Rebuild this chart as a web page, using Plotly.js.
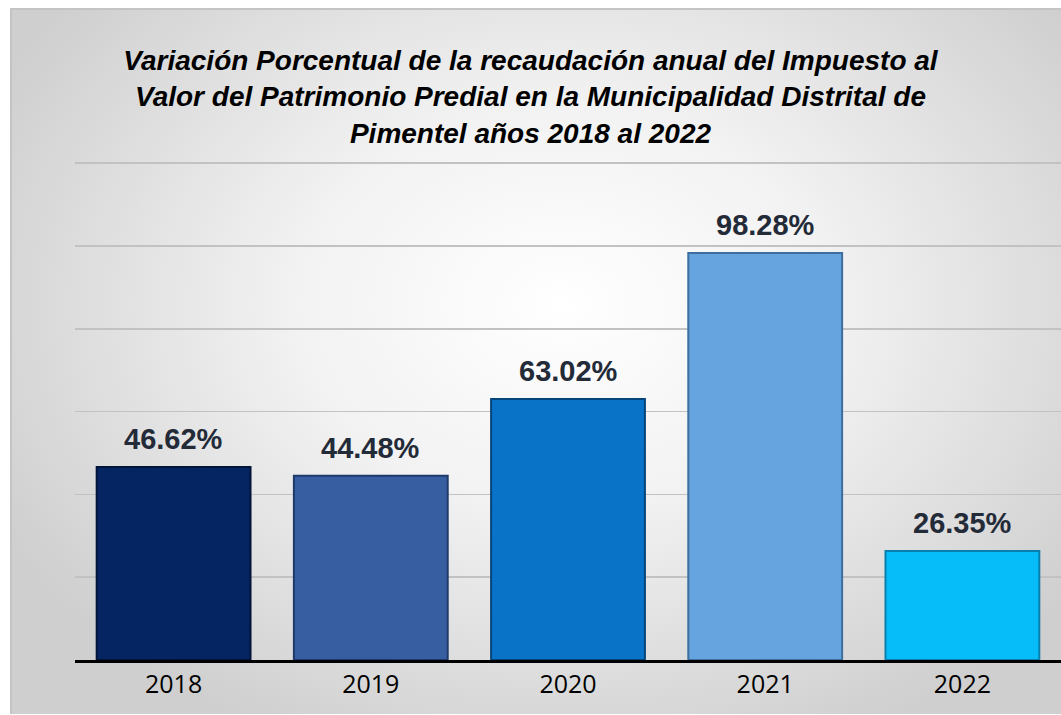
<!DOCTYPE html>
<html>
<head>
<meta charset="utf-8">
<script src="https://cdn.plot.ly/plotly-3.0.1.min.js"></script>
<style>
  html, body { margin: 0; padding: 0; background: #ffffff; }
  #bg {
    position: absolute; left: 10px; top: 8px; width: 1060px; height: 706px;
    box-sizing: border-box;
    border-left: 2px solid #c4c4c4; border-top: 2px solid #c4c4c4;
    background: radial-gradient(ellipse 60% 68% at 52% 42%, #ffffff 0%, #f2f2f2 42%, #cfcfcf 100%);
  }
  #chart { position: absolute; left: 0; top: 0; width: 1061px; height: 715px; }
</style>
</head>
<body>
<div id="bg"></div>
<div id="chart"></div>
<script>
const years = ["2018", "2019", "2020", "2021", "2022"];
const values = [46.62, 44.48, 63.02, 98.28, 26.35];
const barColors = ["#052562", "#365ea1", "#0873c7", "#65a4de", "#06bcf9"];
const edgeColors = ["#021438", "#1f3a6a", "#05457a", "#3c6f9e", "#0a7fae"];
const titleText = "Variación Porcentual de la recaudación anual del Impuesto al<br>Valor del Patrimonio Predial en la Municipalidad Distrital de<br>Pimentel años 2018 al 2022";

const trace = {
  type: "bar",
  x: years,
  y: values,
  marker: { color: barColors, line: { color: edgeColors, width: 2 } },
  hoverinfo: "x+y"
};

const annotations = years.map((yr, i) => ({
  x: i, y: values[i], xref: "x", yref: "y",
  text: values[i].toFixed(2) + "%",
  showarrow: false, yanchor: "bottom", yshift: 10,
  font: { family: "Liberation Sans, Arial, sans-serif", size: 29, color: "#232a38", weight: "bold" }
}));

const layout = {
  width: 1061, height: 715,
  margin: { l: 75, r: 0, t: 159, b: 55 },
  paper_bgcolor: "rgba(0,0,0,0)",
  plot_bgcolor: "rgba(0,0,0,0)",
  showlegend: false,
  bargap: 0.22,
  title: {
    text: titleText,
    xref: "container", x: 0.5, xanchor: "center",
    yref: "container", y: 1 - 70 / 715, yanchor: "middle",
    font: { family: "Liberation Sans, Arial, sans-serif", size: 28, color: "#000000", weight: "bold", style: "italic" }
  },
  xaxis: {
    type: "category",
    range: [-0.5, years.length - 0.5],
    showline: true, linecolor: "#000000", linewidth: 3,
    ticks: "", showgrid: false,
    tickfont: { family: "Open Sans, sans-serif", size: 25, color: "#000000" },
    ticklabelstandoff: 0
  },
  yaxis: {
    range: [0, 121], dtick: 20, showticklabels: false,
    showgrid: true, gridcolor: "#c2c2c2", gridwidth: 1.5,
    zeroline: false, showline: false, ticks: ""
  },
  annotations: annotations
};

Plotly.newPlot("chart", [trace], layout, { displayModeBar: false, staticPlot: true });
</script>
</body>
</html>
